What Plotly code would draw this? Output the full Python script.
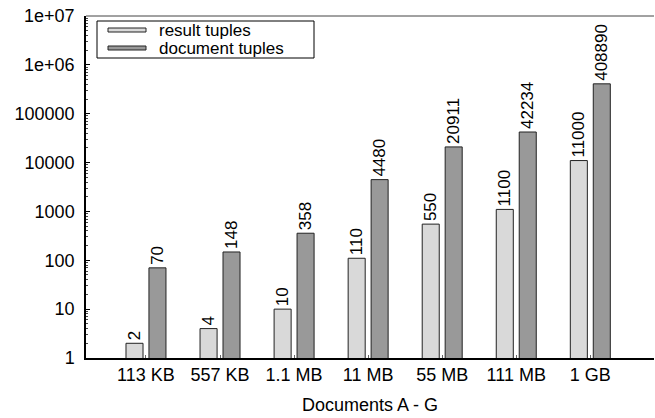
import plotly.graph_objects as go

categories = ["113 KB", "557 KB", "1.1 MB", "11 MB", "55 MB", "111 MB", "1 GB"]
result_tuples = [2, 4, 10, 110, 550, 1100, 11000]
document_tuples = [70, 148, 358, 4480, 20911, 42234, 408890]
series_names = ["result tuples", "document tuples"]
y_tickvals = [1, 10, 100, 1000, 10000, 100000, 1000000, 10000000]
y_ticktext = ["1", "10", "100", "1000", "10000", "100000", "1e+06", "1e+07"]

W, H = 655, 418
L, R, T, B = 86, 654, 16, 358

def px(x):
    return (x - L) / (R - L)

def py(y):
    return (B - y) / (B - T)

FONT = "Liberation Sans, Arial, sans-serif"
light = "#d9d9d9"
dark = "#999999"

fig = go.Figure()
fig.add_trace(go.Bar(
    x=categories, y=result_tuples, name=series_names[0],
    marker=dict(color=light, line=dict(color="#222", width=1)),
    width=0.23, offset=-0.27,
    text=[str(v) for v in result_tuples], textposition="outside",
    textangle=-90, constraintext="none",
    textfont=dict(size=17, color="black", family=FONT),
    cliponaxis=False, showlegend=False,
))
fig.add_trace(go.Bar(
    x=categories, y=document_tuples, name=series_names[1],
    marker=dict(color=dark, line=dict(color="#222", width=1)),
    width=0.23, offset=0.04,
    text=[str(v) for v in document_tuples], textposition="outside",
    textangle=-90, constraintext="none",
    textfont=dict(size=17, color="black", family=FONT),
    cliponaxis=False, showlegend=False,
))

shapes = [
    dict(type="line", xref="paper", yref="paper", x0=0, x1=1, y0=1, y1=1,
         line=dict(color="#444", width=1)),
    dict(type="rect", xref="paper", yref="paper", x0=px(97), x1=px(314),
         y0=py(58), y1=py(21), line=dict(color="black", width=1),
         fillcolor="white"),
    dict(type="rect", xref="paper", yref="paper", x0=px(108), x1=px(146),
         y0=py(32), y1=py(28), line=dict(color="#222", width=1),
         fillcolor=light),
    dict(type="rect", xref="paper", yref="paper", x0=px(108), x1=px(146),
         y0=py(50), y1=py(46), line=dict(color="#222", width=1),
         fillcolor=dark),
]
annotations = [
    dict(text=series_names[0], xref="paper", yref="paper", x=px(157), y=py(30),
         xanchor="left", yanchor="middle", showarrow=False,
         font=dict(size=17, color="black", family=FONT)),
    dict(text=series_names[1], xref="paper", yref="paper", x=px(157), y=py(48),
         xanchor="left", yanchor="middle", showarrow=False,
         font=dict(size=17, color="black", family=FONT)),
]

fig.update_layout(
    width=W, height=H,
    margin=dict(l=L, r=W - R, t=T, b=H - B, autoexpand=False),
    plot_bgcolor="white", paper_bgcolor="white",
    font=dict(family=FONT, size=18, color="black"),
    barmode="group",
    shapes=shapes, annotations=annotations,
    showlegend=False,
)
fig.update_xaxes(
    type="category", range=[-0.81, 6.86], automargin=False,
    showline=True, linecolor="black", linewidth=1.5,
    ticks="inside", ticklen=3, tickcolor="#666",
    showgrid=False, zeroline=False,
    tickfont=dict(size=18, family=FONT),
    title=dict(text="Documents A - G", font=dict(size=18, family=FONT), standoff=14),
)
fig.update_yaxes(
    type="log", range=[0, 7], automargin=False,
    tickvals=y_tickvals, ticktext=y_ticktext,
    showline=True, linecolor="black", linewidth=1.5,
    ticks="inside", ticklen=4, tickcolor="black",
    minor=dict(ticks="inside", ticklen=2, tickcolor="#444", dtick="D1"),
    showgrid=False, zeroline=False,
    tickfont=dict(size=18, family=FONT),
    ticklabelstandoff=6,
)

fig.write_html(
    "out.html",
    config={"displayModeBar": False},
    post_script="document.body.style.margin='0';document.body.style.overflow='hidden';",
)
